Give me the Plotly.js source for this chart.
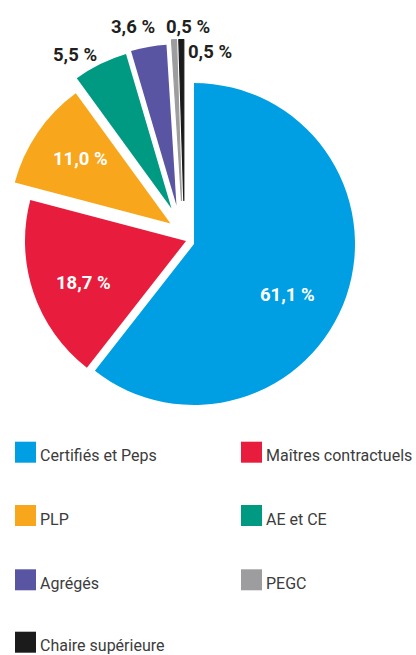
<!DOCTYPE html>
<html><head><meta charset="utf-8">
<script src="https://cdn.plot.ly/plotly-3.0.1.min.js"></script>
<style>html,body{margin:0;padding:0;background:#fff;} #chart{width:416px;height:655px;}</style>
</head><body><div id="chart"></div>
<script>
// ---- data ----
const categories = ['Certifiés et Peps', 'Maîtres contractuels', 'PLP', 'AE et CE', 'Agrégés', 'PEGC', 'Chaire supérieure'];
const shares = [61.1, 18.7, 11.0, 5.5, 3.6, 0.5, 0.5];

// ---- styles / layout ----
const colors = ['#009fe3', '#e81c3c', '#f8a61c', '#009982', '#5a55a3', '#9d9d9f', '#1b1b1b'];
const W = 416, H = 655, radius = 161;
// centre of each exploded slice (px)
const sliceCentres = [[194, 244], [186, 241], [170.5, 223.5], [171.5, 208.5], [176.5, 205.5], [181.5, 200.5], [183.8, 200.5]];
// percentage label positions (px) and colours
const labelPos = [[287, 295], [83, 282.5], [80, 159], [74.5, 55], [132.5, 27], [187.5, 27], [209.7, 52]];
const labelColor = ['#ffffff', '#ffffff', '#ffffff', '#231f20', '#231f20', '#231f20', '#231f20'];
// legend grid (px)
const legendCols = [15, 241];
const legendRows = [441.7, 505, 569.3, 631.7];
const swatch = 21;

const FONT = 'Roboto, "Liberation Sans", Arial, sans-serif';
const fmt = v => v.toFixed(1).replace('.', ',') + ' %';
const px = x => x / W, py = y => 1 - y / H;

const traces = categories.map((name, i) => {
  const [cx, cy] = sliceCentres[i];
  return {
    type: 'pie', name: name, labels: categories, values: shares,
    sort: false, direction: 'clockwise', rotation: 0,
    marker: {
      colors: colors.map((c, j) => j === i ? c : 'rgba(0,0,0,0)'),
      line: {width: i >= 5 ? 1.2 : 0, color: colors.map((c, j) => j === i ? c : 'rgba(0,0,0,0)')}
    },
    textinfo: 'none',
    domain: {x: [px(cx - radius), px(cx + radius)], y: [py(cy + radius), py(cy - radius)]},
    showlegend: false,
    hoverinfo: 'none'
  };
});

const annotations = [];
const shapes = [];
categories.forEach((name, i) => {
  annotations.push({
    xref: 'paper', yref: 'paper', x: px(labelPos[i][0]), y: py(labelPos[i][1]),
    xanchor: 'center', yanchor: 'middle', showarrow: false,
    text: fmt(shares[i]), font: {family: FONT, size: 18.5, color: labelColor[i], weight: 'bold'}
  });
  const col = i % 2, row = Math.floor(i / 2);
  const x0 = legendCols[col], y0 = legendRows[row];
  shapes.push({type: 'rect', xref: 'paper', yref: 'paper', x0: px(x0), x1: px(x0 + swatch), y0: py(y0 + swatch), y1: py(y0),
    fillcolor: colors[i], line: {width: 0}});
  annotations.push({
    xref: 'paper', yref: 'paper', x: px(x0 + swatch + 2), y: py(y0 + swatch / 2 + 3.5),
    xanchor: 'left', yanchor: 'middle', showarrow: false,
    text: name, font: {family: FONT, size: 16, color: '#3c3c3c'}
  });
});

const layout = {
  width: W, height: H,
  margin: {l: 0, r: 0, t: 0, b: 0},
  paper_bgcolor: '#ffffff', plot_bgcolor: '#ffffff',
  showlegend: false,
  annotations: annotations, shapes: shapes
};
Plotly.newPlot('chart', traces, layout, {displayModeBar: false, staticPlot: true});
</script>
</body></html>
